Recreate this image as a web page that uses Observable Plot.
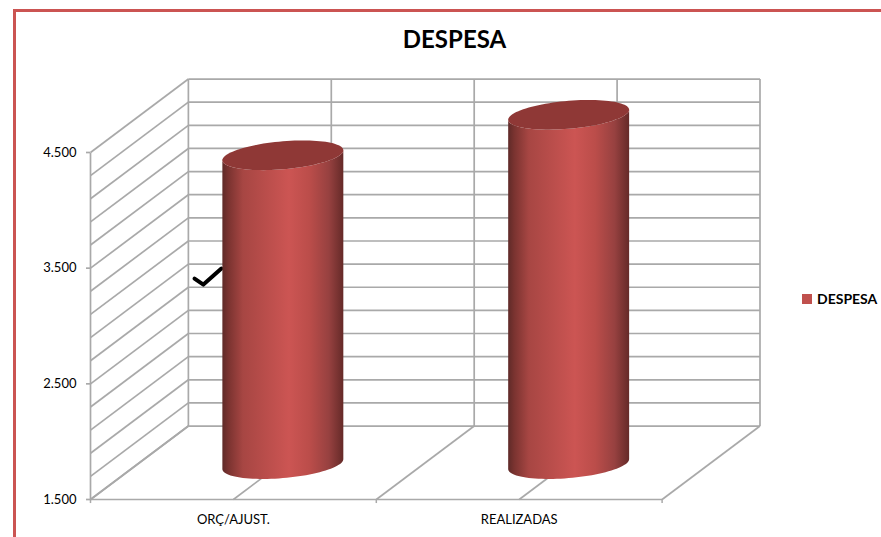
<!DOCTYPE html>
<html><head><meta charset="utf-8">
<script src="https://cdn.jsdelivr.net/npm/d3@7"></script>
<script src="https://cdn.jsdelivr.net/npm/@observablehq/plot@0.6"></script>
<style>
html,body{margin:0;padding:0;background:#fff;overflow:hidden}
#chart{position:relative;width:881px;height:537px;overflow:hidden;font-family:Lato,sans-serif}
#frame{position:absolute;left:13px;top:9px;right:-10px;bottom:-10px;border:3px solid #cb5452;box-sizing:border-box}
#title{position:absolute;left:0;width:909px;top:24px;text-align:center;font:bold 24px Lato,sans-serif;color:#000;margin:0}
#chart svg.main{position:absolute;left:0;top:0;background:none;overflow:visible}
#legend{position:absolute;left:802px;top:290px;font:bold 14px Lato,sans-serif;color:#000;display:flex;align-items:center;gap:5px}
#legend i{display:block;width:10px;height:10px;background:#c0504d}
</style></head>
<body><div id="chart"><div id="frame"></div><h2 id="title"></h2><div id="legend"></div></div>
<script>
const chartTitle = "DESPESA";
const categories = ["ORÇ/AJUST.", "REALIZADAS"];
const values = [4170, 4520];
const yTicks = [1500, 2500, 3500, 4500];
const gridValues = d3.range(1500, 4501, 200);
const wallColumns = [0, 0.5, 1, 1.5, 2];
const axisColumns = [0, 1, 2];
const checkX = [0.364, 0.395, 0.458];
const checkY = [3410, 3358, 3497];

// depth of the 3-D box, in data units
const depthX = 0.3425, depthY = 635;
// cylinder cross-section, in data units
const cylRx = 0.2116, cylTilt = 43, cylRy = 121, baseY = 1806, cylOffset = 0.173;

const fmt = d3.formatLocale({decimal:",", thousands:".", grouping:[3], currency:["",""]}).format(",d");
const grid = "#a9a9a9", gw = 1.7;

const ringPts = (cx, cy, t0, t1, n = 48) => d3.range(n + 1).map(i => {
  const t = t0 + (t1 - t0) * i / n;
  return {x: cx + cylRx * Math.cos(t), y: cy + cylTilt * Math.cos(t) - cylRy * Math.sin(t)};
});
const bars = values.map((v, i) => {
  const cx = i + 0.5 + cylOffset;
  const base = baseY, top = baseY + (v - 1500);
  return {
    body: [...ringPts(cx, base, 0, Math.PI), ...ringPts(cx, top, Math.PI, 0)],
    cap: ringPts(cx, top, 0, 2 * Math.PI, 96)
  };
});
const seg = (x1, y1, x2, y2) => ({x1, y1, x2, y2});
const backHoriz = gridValues.map(v => seg(depthX, v + depthY, 2 + depthX, v + depthY));
const sideLines = gridValues.map(v => seg(0, v, depthX, v + depthY));
const backVert = wallColumns.map(c => seg(c + depthX, 1500 + depthY, c + depthX, 4500 + depthY));
const floorLines = wallColumns.map(c => seg(c, 1500, c + depthX, 1500 + depthY));
const frontLines = [seg(0, 1500, 0, 4500), seg(0, 1500, 2, 1500)];
const allLines = [...backHoriz, ...backVert, ...sideLines, ...floorLines, ...frontLines];
const lineOpts = {x1:"x1", y1:"y1", x2:"x2", y2:"y2", stroke:grid, strokeWidth:gw};
const check = checkX.map((x, i) => ({x, y: checkY[i]}));

const plot = Plot.plot({
  width: 881, height: 537,
  style: {background:"transparent", fontFamily:"Lato,sans-serif", fontSize:"13px", color:"#000", overflow:"visible"},
  x: {type:"linear", axis:null, domain:[0, 2 + depthX], range:[90, 759.5]},
  y: {type:"linear", domain:[1500, 4500], range:[499, 152]},
  marks: [
    Plot.link(allLines, lineOpts),
    Plot.ruleX(axisColumns, {y1:1500, y2:1465, stroke:grid, strokeWidth:1.5}),
    Plot.line(check, {x:"x", y:"y", stroke:"#000", strokeWidth:4, strokeLinejoin:"round", strokeLinecap:"round", curve:"linear"}),
    ...bars.flatMap(b => [
      Plot.line(b.body, {x:"x", y:"y", fill:"url(#cyl)", stroke:"none", curve:"linear"}),
      Plot.line(b.cap, {x:"x", y:"y", fill:"#8f3836", stroke:"none", curve:"linear"})
    ]),
    Plot.axisY({ticks:yTicks, tickFormat:fmt, tickSize:4, tickPadding:10, stroke:grid, strokeWidth:gw, fill:"#000", label:null, anchor:"left", marginLeft:90}),
    Plot.text(categories, {x:[0.5,1.5], y:[1500,1500], text:d=>d, dy:20, fontSize:13, fill:"#000"})
  ]
});
plot.classList.add("main");
plot.insertAdjacentHTML("afterbegin", `<defs><linearGradient id="cyl" x1="0" x2="1" y1="0" y2="0">
<stop offset="0" stop-color="#5f2a28"/><stop offset=".05" stop-color="#7a3330"/><stop offset=".17" stop-color="#a74643"/>
<stop offset=".55" stop-color="#cc5553"/><stop offset=".72" stop-color="#bb4d4a"/><stop offset=".88" stop-color="#974140"/><stop offset="1" stop-color="#652a28"/>
</linearGradient></defs>`);
const chart = document.getElementById("chart");
document.getElementById("title").textContent = chartTitle;
document.getElementById("legend").innerHTML = `<i></i><span>${chartTitle}</span>`;
chart.appendChild(plot);
</script></body></html>
